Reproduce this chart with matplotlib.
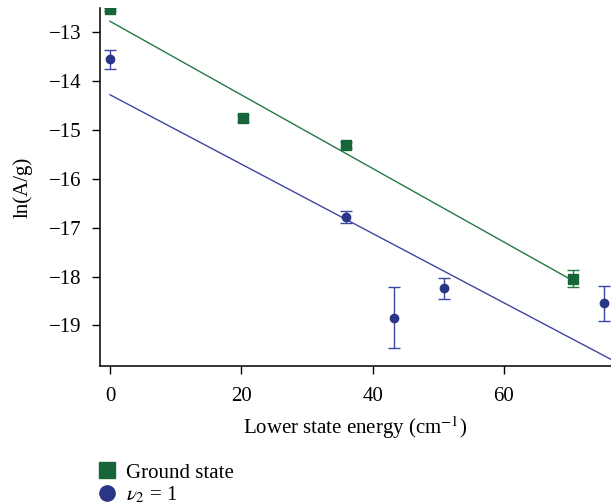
import numpy as np
import matplotlib
matplotlib.use("Agg")
import matplotlib.pyplot as plt
from matplotlib.lines import Line2D

plt.rcParams["font.family"] = ["Liberation Serif", "DejaVu Serif"]
plt.rcParams["mathtext.fontset"] = "stix"

# Ground state
gs_x = [0.0, 20.3, 36.0, 70.5]
gs_y = [-12.53, -14.76, -15.31, -18.04]
gs_err = [0.04, 0.07, 0.06, 0.18]

# v2 = 1
v2_x = [0.0, 36.0, 43.2, 50.8, 75.3]
v2_y = [-13.55, -16.78, -18.84, -18.24, -18.55]
v2_err = [0.19, 0.13, 0.63, 0.21, 0.35]

green = "#16663a"
green_line = "#237a42"
blue = "#2b3588"
blue_line = "#3b47a0"

fig = plt.figure(figsize=(6.11, 5.04), dpi=100)
ax = fig.add_axes([100 / 611, 1 - 366 / 504, 511 / 611, 358 / 504])

# least-squares fit lines
p_gs = np.polyfit(gs_x, gs_y, 1)
p_v2 = np.polyfit(v2_x, v2_y, 1)
xg = np.array([min(gs_x), max(gs_x)])
xv = np.array([min(v2_x), max(v2_x) + 1.0])
ax.plot(xg, np.polyval(p_gs, xg), color=green_line, lw=1.0)
ax.plot(xv, np.polyval(p_v2, xv), color=blue_line, lw=1.0)

ax.errorbar(gs_x, gs_y, yerr=gs_err, fmt="s", color=green, ms=6.5,
            ecolor=green_line, elinewidth=1.0, capsize=4.5, capthick=1.0)
ax.errorbar(v2_x, v2_y, yerr=v2_err, fmt="o", color=blue, ms=6,
            ecolor=blue_line, elinewidth=1.0, capsize=4.5, capthick=1.0)

ax.set_xlim(-1.52, 76.3)
ax.set_ylim(-19.83, -12.5)
ax.set_xticks([0, 20, 40, 60])
ax.set_yticks([-13, -14, -15, -16, -17, -18, -19])
ax.set_yticklabels(["\u221213", "\u221214", "\u221215", "\u221216",
                    "\u221217", "\u221218", "\u221219"])
for s in ["top", "right"]:
    ax.spines[s].set_visible(False)
for s in ["left", "bottom"]:
    ax.spines[s].set_linewidth(1.1)
ax.tick_params(axis="both", labelsize=15, width=1.0, length=6, direction="out")
ax.tick_params(axis="y", pad=7)
ax.tick_params(axis="x", pad=9)
ax.set_xlabel("Lower state energy (cm$^{-1}$)", fontsize=15, labelpad=6)
ax.set_ylabel("ln(A/g)", fontsize=15, labelpad=12)

handles = [
    Line2D([], [], ls="none", marker="s", ms=11, color=green),
    Line2D([], [], ls="none", marker="o", ms=11, color=blue),
]
fig.legend(handles, ["Ground state", r"$\nu_2$ = 1"], loc="upper left",
           bbox_to_anchor=(0.16, 1 - 463 / 504), frameon=False, fontsize=15,
           handlelength=0.9, handletextpad=0.45, labelspacing=0.1,
           borderaxespad=0, borderpad=0)

fig.savefig("out.png", dpi=100)
